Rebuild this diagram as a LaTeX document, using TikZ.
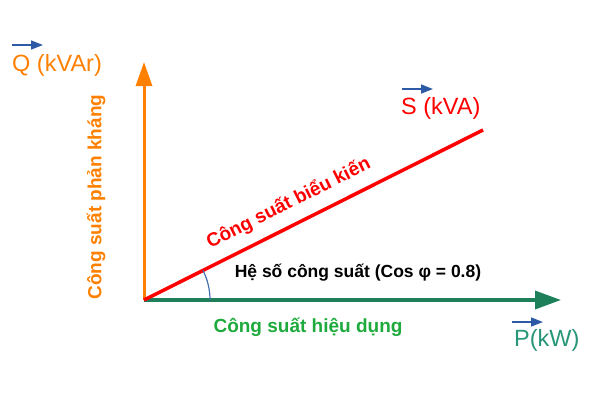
\documentclass[tikz,border=0pt]{standalone}
\usepackage{fontspec}
\setmainfont{Liberation Sans}
\usetikzlibrary{positioning,arrows.meta}
\definecolor{qorange}{RGB}{255,128,0}
\definecolor{paxis}{RGB}{30,128,90}
\definecolor{ptext}{RGB}{40,150,120}
\definecolor{hgreen}{RGB}{30,170,60}
\definecolor{vecblue}{RGB}{45,90,165}
\definecolor{arcblue}{RGB}{70,110,170}

\begin{document}
\begin{tikzpicture}[
    x=1pt, y=-1pt,
    axq/.style={draw=qorange, line width=3pt, -{Triangle[length=24pt, width=16pt]}},
    axp/.style={draw=paxis, line width=3.5pt, -{Triangle[length=26pt, width=18pt]}},
    sline/.style={draw=red, line width=3.5pt},
    vec/.style={draw=vecblue, line width=1.6pt, -{Triangle[length=12pt, width=9pt]}},
    big/.style={font=\fontsize{23.5}{27}\selectfont, inner sep=0pt},
    blbl/.style={font=\fontsize{19}{23}\selectfont\bfseries, inner sep=0pt}
]
\useasboundingbox (0,0) rectangle (600,400);

% axes and the apparent power line
\coordinate (o) at (144,300);
\coordinate (qtip) at (144,62);
\coordinate (ptip) at (561,300);
\coordinate (stip) at (483,130);

\draw[axq] (o) -- (qtip);
\draw[axp] (o) -- (ptip);
\draw[sline] (o) -- (stip);
\draw[arcblue, line width=1.2pt] ([shift={(66,0)}]o) arc[start angle=0, end angle=-26.7, radius=66];

% vector labels
\node[big, text=qorange, anchor=base west] (qlbl) at (12,71) {Q (kVAr)};
\node[big, text=red, anchor=base west] (slbl) at (401,114) {S (kVA)};
\node[big, text=ptext, anchor=base west] (plbl) at (514,346) {P(kW)};

\coordinate (qa) at (12,45);   \coordinate (qb) at (43,45);
\coordinate (sa) at (402,89);  \coordinate (sb) at (433,89);
\coordinate (pa) at (512,322); \coordinate (pb) at (543,322);
\draw[vec] (qa) -- (qb);
\draw[vec] (sa) -- (sb);
\draw[vec] (pa) -- (pb);

% texts along the diagram
\path (o) -- (stip) node[pos=0.455, sloped, above=12pt, blbl, text=red] (sname) {Công suất biểu kiến};
\node[blbl, text=qorange, rotate=90] (qname) at (96,197) {Công suất phản kháng};
\node[blbl, text=hgreen] (pname) at (308,327) {Công suất hiệu dụng};
\node[font=\fontsize{17.5}{21}\selectfont\bfseries, inner sep=0pt] (cosphi) at (358,273) {Hệ số công suất (Cos φ = 0.8)};
\end{tikzpicture}
\end{document}
